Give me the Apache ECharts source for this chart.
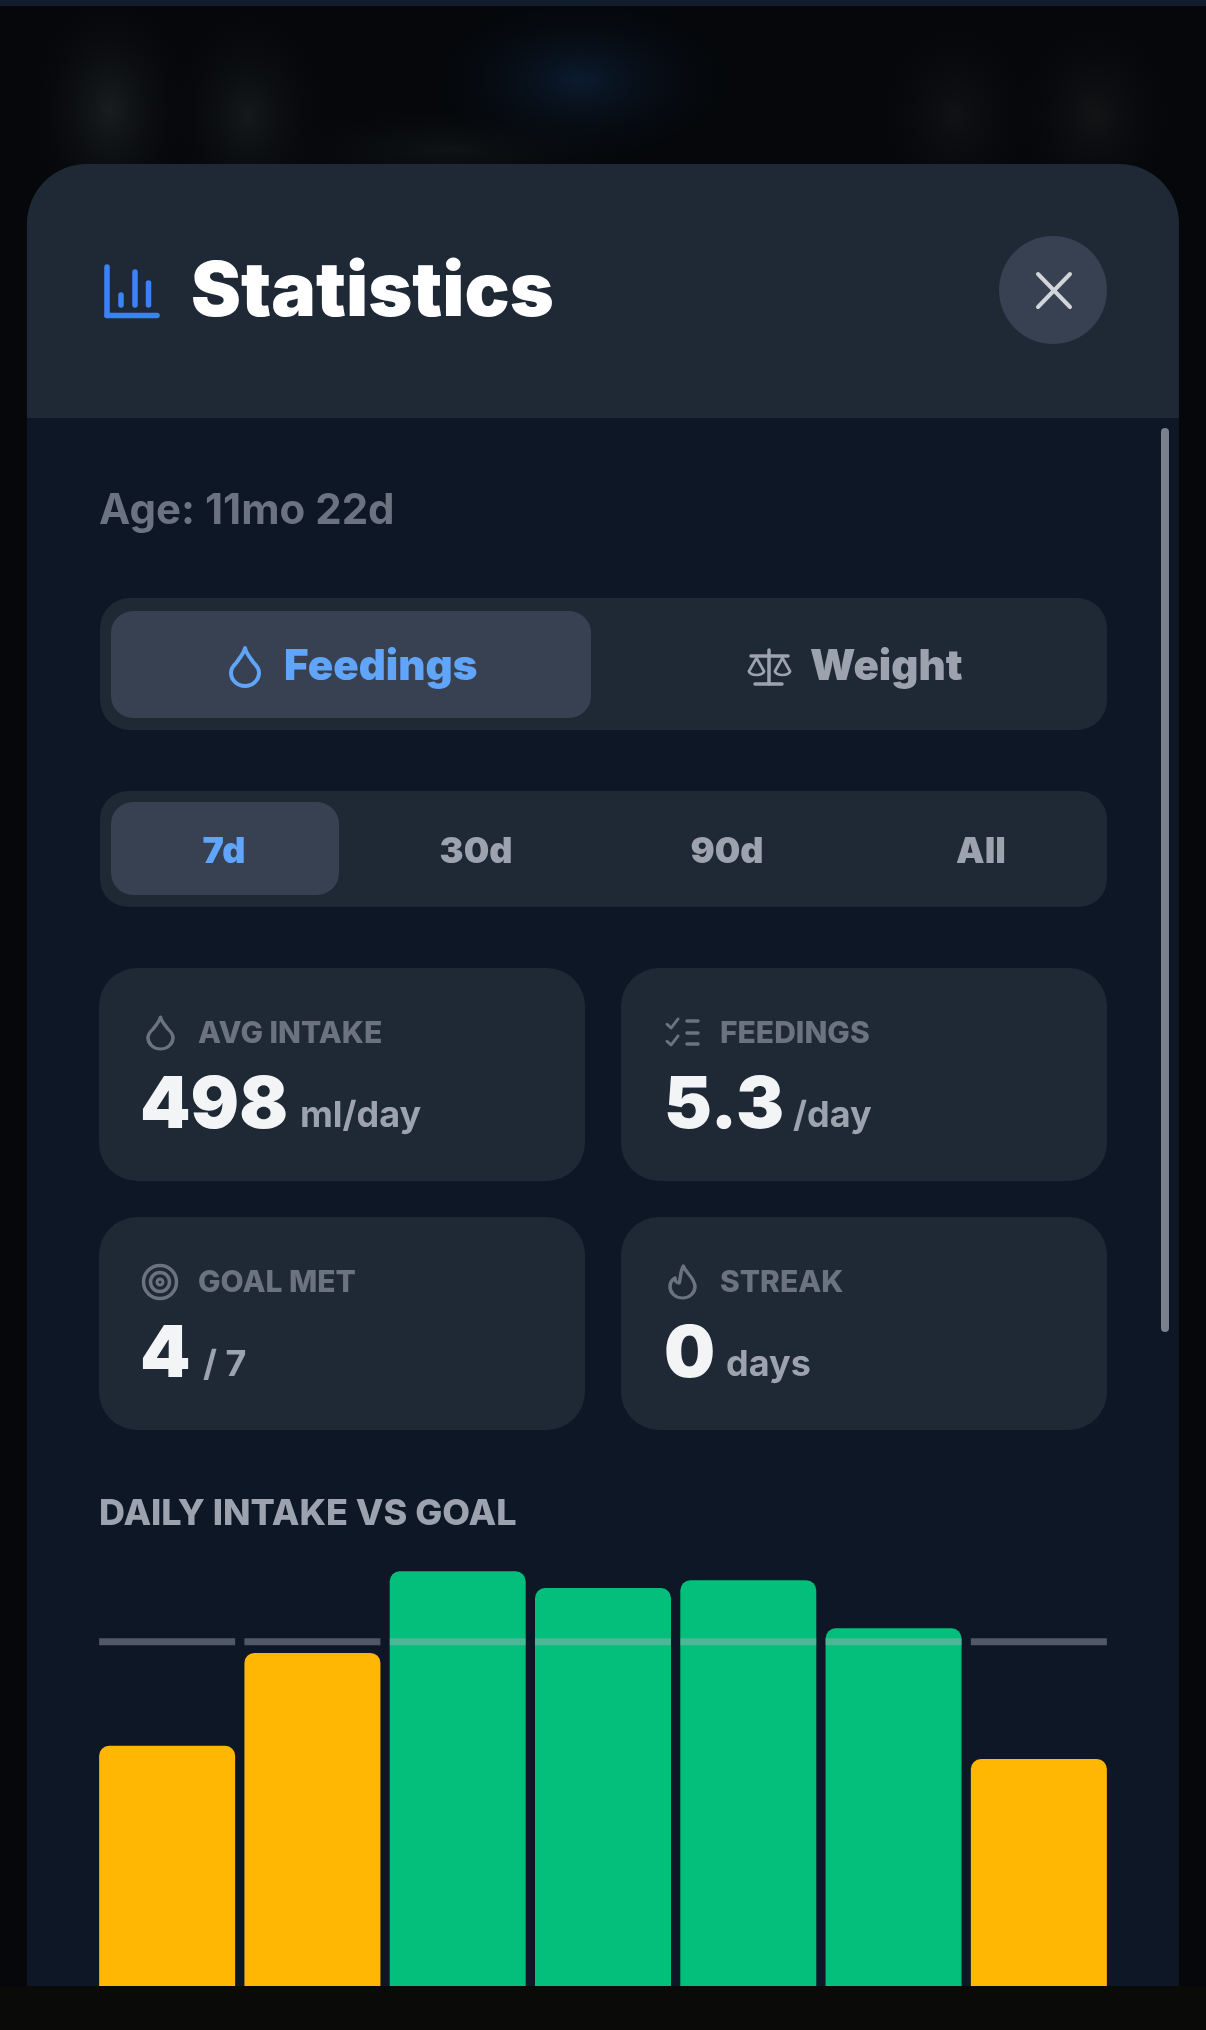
<!DOCTYPE html>
<html>
<head>
<meta charset="utf-8"/>
<style>
    html, body { margin: 0; padding: 0; background: #05070a; overflow: hidden; }
    #container { width: 1206px; height: 2030px; }
</style>
</head>
<body>
<div id="container"></div>
<script src="https://cdn.jsdelivr.net/npm/echarts@6/dist/echarts.min.js"></script>
<script type="text/javascript">
    // daily intake, ml (the axis is cut off by the bottom of the screen)
    var days = ['Day 1', 'Day 2', 'Day 3', 'Day 4', 'Day 5', 'Day 6', 'Day 7'];
    var intake = [407, 490, 563, 548, 555, 512, 395];
    var goal = [500, 500, 500, 500, 500, 500, 500];
    var ranges = ['7d', '30d', '90d', 'All'];
    var statLabels = ['AVG INTAKE', 'FEEDINGS', 'GOAL MET', 'STREAK'];
    var statValues = ['498', '5.3', '4', '0'];
    var statUnits = ['ml/day', '/day', '/ 7', 'days'];

    var FONT = 'Inter, "Noto Sans", sans-serif';
    var BLUE = '#60a5fa';
    var GRAY = '#9ca3af';
    var DIM = '#6b7280';
    var CARD = '#1e2935';

    var g = [];

    // icon outlines, each starts at 0,0
    var shapes = {
        drop: {d: 'M8 0C7.5 3 5 6 3 9C1 11 0 13 0 15A8 8 0 0 0 16 15C16 13 15 11 13 9C11 6 8.5 3 8 0Z', w: 16, h: 23},
        flame: {d: 'M8 0C9 4 15 8 15 14A7.5 7.5 0 0 1 0 14C0 11 1.5 9 3 8C3 10 4 11.5 5.5 11.5C6.5 8 6 4 8 0Z', w: 15, h: 21.5},
        pan: {d: 'M7 0L0 14A7 4 0 0 0 14 14Z', w: 14, h: 18},
        tick: {d: 'M0 4L3 7L8 0', w: 8, h: 7}
    };
    Object.keys(shapes).forEach(function (name) {
        echarts.graphic.registerShape(name, echarts.graphic.extendPath(shapes[name].d, {}));
    });

    function box(x, y, w, h, r, fill, z) {
        g.push({type: 'rect', z: z, shape: {x: x, y: y, width: w, height: h, r: r}, style: {fill: fill}});
    }

    function label(text, x, base, size, weight, color, align) {
        g.push({
            type: 'text', z: 5, x: x, y: base - size * 0.29,
            style: {
                text: text, fill: color, align: align || 'left', verticalAlign: 'middle',
                font: weight + ' ' + size + 'px ' + FONT
            }
        });
    }

    function icon(name, x, y, w, h, color, width) {
        var sx = w / shapes[name].w;
        g.push({
            type: name, z: 5, x: x, y: y, scaleX: sx, scaleY: h / shapes[name].h,
            style: {fill: 'none', stroke: color, lineWidth: width / sx, lineCap: 'round', lineJoin: 'round'}
        });
    }

    function line(x1, y1, x2, y2, color, width) {
        g.push({
            type: 'line', z: 5, shape: {x1: x1, y1: y1, x2: x2, y2: y2},
            style: {stroke: color, lineWidth: width, lineCap: 'round'}
        });
    }

    function ring(cx, cy, r, color, width) {
        g.push({
            type: 'circle', z: 5, shape: {cx: cx, cy: cy, r: r},
            style: {fill: 'none', stroke: color, lineWidth: width}
        });
    }

    function blob(cx, cy, rx, ry, color) {
        g.push({
            type: 'circle', z: 0, x: cx, y: cy, scaleX: 1, scaleY: ry / rx,
            shape: {cx: 0, cy: 0, r: rx},
            style: {
                fill: {
                    type: 'radial', x: 0.5, y: 0.5, r: 0.5,
                    colorStops: [{offset: 0, color: color}, {offset: 1, color: 'rgba(5,7,10,0)'}]
                }
            }
        });
    }

    // blurred page behind the sheet
    box(0, 0, 1206, 2030, 0, '#05070a', 0);
    box(0, 0, 1206, 6, 0, '#111c2c', 1);
    blob(450, 150, 220, 50, '#101316');
    blob(110, 110, 90, 130, '#1a1d20');
    blob(248, 115, 90, 120, '#16191c');
    blob(580, 80, 170, 95, '#0b1b2e');
    blob(955, 115, 90, 110, '#101215');
    blob(1095, 115, 90, 110, '#121416');

    // sheet
    box(27, 164, 1152, 1900, [60, 60, 0, 0], '#0e1725', 1);
    box(27, 164, 1152, 254, [60, 60, 0, 0], CARD, 1);
    box(1161, 428, 8, 904, 4, '#7b818c', 2);

    // header
    line(107, 267, 107, 315.5, '#3b82f6', 5.5);
    line(107, 315.5, 157, 315.5, '#3b82f6', 5.5);
    line(121, 295, 121, 305, '#3b82f6', 5.5);
    line(135, 272, 135, 305, '#3b82f6', 5.5);
    line(148.5, 283, 148.5, 305, '#3b82f6', 5.5);
    label('Statistics', 191, 315, 75, 900, '#ffffff');
    g.push({type: 'circle', z: 2, shape: {cx: 1053, cy: 290, r: 54}, style: {fill: '#374151'}});
    line(1038, 274, 1070, 307, '#d1d5db', 4);
    line(1070, 274, 1038, 307, '#d1d5db', 4);

    label('Age: 11mo 22d', 99, 524, 42, 700, DIM);

    // feedings / weight switch
    box(100, 598, 1007, 132, 30, CARD, 2);
    box(111, 611, 480, 107, 22, '#374151', 3);
    icon('drop', 231, 648, 28, 38, BLUE, 4);
    label('Feedings', 284, 680, 42, 900, BLUE);
    line(769, 650, 769, 684, GRAY, 3.5);
    line(755, 684, 782, 684, GRAY, 3.5);
    line(751, 656, 788, 656, GRAY, 3.5);
    icon('pan', 749, 658, 15, 17, GRAY, 3);
    icon('pan', 775, 658, 15, 17, GRAY, 3);
    label('Weight', 810, 680, 42, 900, GRAY);

    // range switch
    box(100, 791, 1007, 116, 28, CARD, 2);
    box(111, 802, 228, 93, 22, '#374151', 3);
    var rangeX = [224, 476, 727, 981];
    for (var i = 0; i < ranges.length; i++) {
        label(ranges[i], rangeX[i], 863, 36, 900, i === 0 ? BLUE : GRAY, 'center');
    }

    // stat cards
    var cardX = [99, 621, 99, 621];
    var cardY = [968, 968, 1217, 1217];
    var labelX = [198, 720, 198, 720];
    var unitX = [300, 793, 203, 726];
    for (var j = 0; j < statLabels.length; j++) {
        box(cardX[j], cardY[j], 486, 213, 38, CARD, 2);
        label(statLabels[j], labelX[j], cardY[j] + 75, 30, 800, DIM);
        label(statValues[j], cardX[j] + (j % 2 ? 43 : 41), cardY[j] + 159, 72, 900, '#f3f4f6');
        label(statUnits[j], unitX[j], cardY[j] + 159, 36, 700, GRAY);
    }
    icon('drop', 148, 1017, 25, 32, DIM, 3.5);
    line(687, 1021, 698, 1021, DIM, 3.5);
    line(687, 1033, 698, 1033, DIM, 3.5);
    line(687, 1044, 698, 1044, DIM, 3.5);
    icon('tick', 667, 1019, 11, 9, DIM, 3);
    icon('tick', 667, 1036, 11, 9, DIM, 3);
    ring(160, 1282, 16.5, DIM, 3.5);
    ring(160, 1282, 9.5, DIM, 3.5);
    ring(160, 1282, 3, DIM, 3);
    icon('flame', 670, 1266, 25, 32, DIM, 3.5);

    label('DAILY INTAKE VS GOAL', 99, 1525, 36, 800, GRAY);

    // bottom bar covers the sheet
    box(0, 1986, 1206, 44, 0, '#0a0a09', 20);

    var myChart = echarts.init(document.getElementById('container'), null, {renderer: 'canvas'});
    var option = {
        animation: false,
        backgroundColor: 'transparent',
        graphic: {elements: g},
        grid: {left: 94.5, width: 1017, top: 1530, bottom: 44},
        xAxis: {type: 'category', data: days, show: false},
        yAxis: {type: 'value', min: 192, max: 600, show: false},
        series: [
            {
                name: 'Intake',
                type: 'bar',
                z: 10,
                barWidth: 136,
                data: intake,
                itemStyle: {
                    borderRadius: [10, 10, 0, 0],
                    color: function (p) {
                        return p.value >= goal[p.dataIndex] ? '#04bf7b' : '#ffb703';
                    }
                }
            },
            {
                name: 'Goal',
                type: 'scatter',
                z: 11,
                symbol: 'rect',
                symbolSize: [136, 7],
                data: goal,
                itemStyle: {color: 'rgba(165,170,185,0.45)', opacity: 1}
            }
        ]
    };
    myChart.setOption(option, true);
</script>
</body>
</html>
